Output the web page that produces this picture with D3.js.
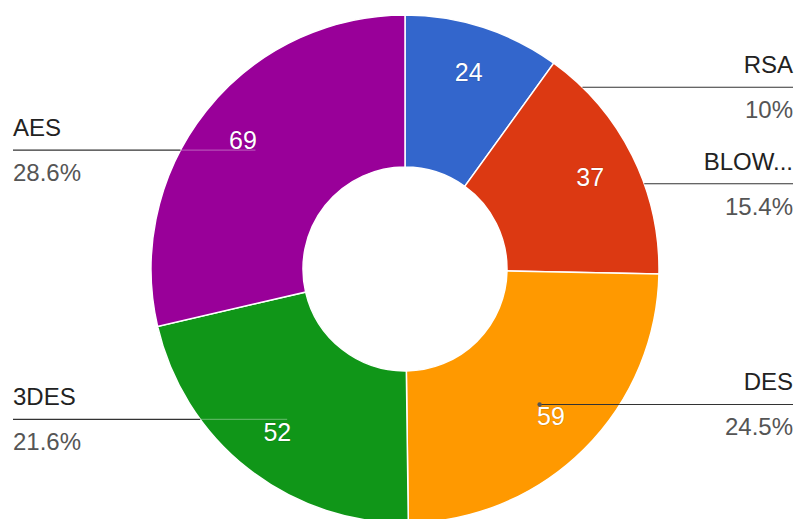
<!DOCTYPE html>
<html>
<head>
<meta charset="utf-8">
<script src="https://cdn.jsdelivr.net/npm/d3@7"></script>
<style>
html,body{margin:0;padding:0;background:#fff;}
svg{display:block;font-family:"Liberation Sans",Arial,sans-serif;}
</style>
</head>
<body>
<svg id="chart" width="795" height="519"></svg>
<script>
const categories = ["RSA", "BLOW...", "DES", "3DES", "AES"];
const values = [24, 37, 59, 52, 69];
const percentLabels = ["10%", "15.4%", "24.5%", "21.6%", "28.6%"];
const colors = ["#3366cc", "#dc3912", "#ff9900", "#109618", "#990099"];

const W = 795, H = 519;
const cx = 405, cy = 269, R = 254, r0 = 102;
const labelR = 207, leaderR = 191;

const svg = d3.select("#chart");
const g = svg.append("g").attr("transform", `translate(${cx},${cy})`);

const data = categories.map((c, i) => ({ name: c, value: values[i], pct: percentLabels[i], color: colors[i] }));
const pie = d3.pie().sort(null).value(d => d.value).startAngle(0).endAngle(2 * Math.PI);
const arcs = pie(data);
const arc = d3.arc().innerRadius(r0).outerRadius(R);

g.selectAll("path.slice").data(arcs).join("path")
  .attr("class", "slice")
  .attr("d", arc)
  .attr("fill", d => d.data.color)
  .attr("stroke", "#fff")
  .attr("stroke-width", 1.5);

// leader lines and labels
arcs.forEach((a, i) => {
  const mid = (a.startAngle + a.endAngle) / 2;
  const sx = leaderR * Math.sin(mid);
  const sy = -leaderR * Math.cos(mid);
  const right = sx > 0;
  const edgeX = (right ? 1 : -1) * Math.sqrt(Math.max(0, R * R - sy * sy));
  const endX = right ? (W - 2 - cx) : (13 - cx);
  const isDark = a.data.name === "DES";
  if (isDark) {
    g.append("line")
      .attr("x1", sx).attr("y1", sy).attr("x2", edgeX).attr("y2", sy)
      .attr("stroke", "#333").attr("stroke-width", 1.2);
    g.append("circle").attr("cx", sx).attr("cy", sy).attr("r", 2.2).attr("fill", "#555");
  } else if (!right) {
    g.append("line")
      .attr("x1", sx).attr("y1", sy).attr("x2", edgeX).attr("y2", sy)
      .attr("stroke", "rgba(255,255,255,0.3)").attr("stroke-width", 1.2);
  }
  g.append("line")
    .attr("x1", edgeX).attr("y1", sy).attr("x2", endX).attr("y2", sy)
    .attr("stroke", "#333")
    .attr("stroke-width", 1.2);
  const anchor = right ? "end" : "start";
  g.append("text")
    .attr("x", endX).attr("y", sy - 14)
    .attr("text-anchor", anchor)
    .attr("font-size", 24)
    .attr("fill", "#222")
    .text(a.data.name);
  g.append("text")
    .attr("x", endX).attr("y", sy + 31)
    .attr("text-anchor", anchor)
    .attr("font-size", 24)
    .attr("fill", "#555")
    .text(a.data.pct);
});

// value labels
g.selectAll("text.val").data(arcs).join("text")
  .attr("class", "val")
  .attr("x", d => labelR * Math.sin((d.startAngle + d.endAngle) / 2))
  .attr("y", d => -labelR * Math.cos((d.startAngle + d.endAngle) / 2))
  .attr("text-anchor", "middle")
  .attr("dominant-baseline", "central")
  .attr("font-size", 25)
  .attr("fill", "#fff")
  .attr("stroke", "rgba(0,0,0,0.18)")
  .attr("stroke-width", 1)
  .attr("paint-order", "stroke")
  .text(d => d.data.value);
</script>
</body>
</html>
